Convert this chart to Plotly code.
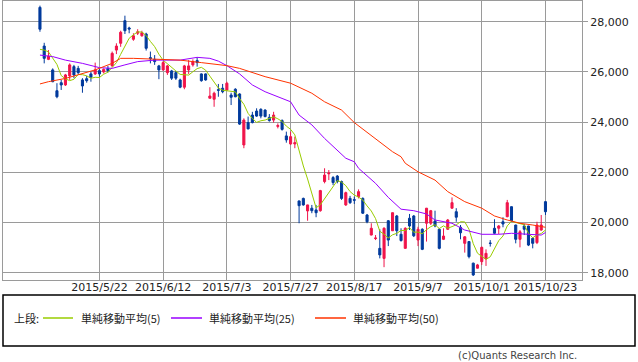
import plotly.graph_objects as go

# ---- data ----
opens = [28570, 27030, 26500, 26080, 25250, 25570, 25480, 25840, 26210, 26140,
         25680, 25730, 25920, 25920, 26050, 26000, 26140, 26240, 26870, 27140,
         28040, 27750, 27300, 27540, 27440, 27510, 26570, 26500, 26240, 26080,
         25970, 26040, 25970, 25680, 25390, 26080, 26280, 26450, 25920, 25920,
         24950, 24910, 25290, 25350, 25280, 25080, 25310, 25120, 23090, 23980,
         24280, 24440, 24510, 24480, 24190, 24080, 23830, 24060, 23450, 23130,
         23130, 20860, 20960, 20460, 20570, 20500, 20470, 21630, 21940, 21790,
         21850, 21630, 20700, 20960, 20910, 21030, 20960, 20300, 19500, 19360,
         18970, 18570, 20070, 19670, 20260, 19530, 18970, 20170, 20260, 19300,
         19730, 19970, 19970, 20060, 19730, 19330, 19730, 20570, 20430, 19810,
         19170, 19240, 18380, 18180, 18440, 18550, 19180, 19770, 19770, 20030,
         20230, 20630, 19900, 19330, 19860, 19860, 19370, 19200, 19700, 20830]
highs = [28640, 27160, 26870, 26140, 25550, 25680, 25920, 26340, 26280, 26240,
         25750, 25840, 26010, 26370, 26140, 26140, 26240, 26810, 27140, 27640,
         28240, 27800, 27540, 27700, 27640, 27560, 26810, 26670, 26280, 26430,
         26280, 26080, 26040, 25730, 26280, 26470, 26500, 26580, 25940, 25940,
         25390, 25210, 25520, 25520, 25610, 25170, 25350, 25150, 24150, 24220,
         24410, 24550, 24550, 24510, 24320, 24410, 23950, 24110, 23620, 23620,
         23420, 20870, 20990, 20710, 20700, 20700, 21300, 22160, 22090, 21850,
         21890, 21670, 21230, 21060, 21030, 21320, 21000, 20340, 19970, 19500,
         19730, 19810, 20100, 20400, 20300, 19770, 19810, 20340, 20300, 19830,
         19770, 20580, 20500, 20470, 19770, 19770, 20140, 21000, 20570, 19900,
         19460, 19250, 18400, 18350, 19040, 18930, 19300, 20130, 19900, 20210,
         20900, 20640, 19910, 19700, 19940, 19870, 19410, 20030, 20300, 20840]
lows = [27600, 26340, 26470, 25590, 24950, 25280, 25440, 25680, 25750, 25920,
        25170, 25570, 25610, 25880, 25810, 25940, 25970, 26210, 26710, 27000,
        27510, 27540, 27240, 27470, 27400, 26850, 26340, 26280, 25710, 26050,
        25880, 25680, 25680, 25350, 25310, 25920, 26210, 26210, 25610, 25650,
        24950, 24610, 25010, 25150, 25250, 24680, 24990, 23890, 22960, 23710,
        23950, 24210, 24150, 24190, 24020, 23980, 23750, 23660, 23180, 23090,
        22960, 19970, 20670, 20070, 20370, 20210, 20430, 21560, 21690, 21490,
        21560, 20900, 20660, 20740, 20740, 20960, 20340, 19970, 19490, 19300,
        18570, 18220, 19060, 19660, 19460, 19240, 18960, 19700, 19420, 19060,
        18900, 19240, 19900, 19810, 18930, 19300, 19700, 20550, 20030, 19330,
        18800, 18570, 17870, 18170, 18310, 18270, 19040, 19540, 19540, 19810,
        20210, 20030, 19170, 19010, 19500, 19060, 18970, 19140, 19670, 20300]
closes = [27700, 26540, 26630, 25610, 25010, 25480, 25880, 26280, 25880, 25970,
          25440, 25650, 25790, 26080, 25920, 26100, 26050, 26740, 27030, 27580,
          27640, 27710, 27440, 27600, 27560, 26940, 26530, 26410, 26080, 26370,
          26240, 25750, 25750, 25390, 26240, 26240, 26410, 26370, 25650, 25680,
          25040, 25150, 25270, 25210, 25550, 24990, 25010, 23920, 24080, 23730,
          23980, 24240, 24240, 24220, 24060, 24280, 23860, 23710, 23290, 23420,
          23180, 20670, 20700, 20700, 20470, 20390, 21270, 21890, 21970, 21590,
          21630, 20960, 21190, 20790, 20890, 21230, 20370, 20030, 19770, 19380,
          18710, 19770, 19300, 20390, 19670, 19280, 19770, 19860, 19470, 19730,
          18930, 20570, 20470, 19860, 18970, 19460, 20100, 20790, 20210, 19590,
          19430, 18640, 17910, 18310, 19010, 18770, 19170, 19570, 19860, 19940,
          20790, 20070, 19330, 19630, 19730, 19100, 19170, 19900, 19900, 20430]

# MA(5): first four values (need earlier history), rest from closes
ma5_head = [26900, 26870, 26800, 26540]

ma25_idx = [0, 3, 6, 10, 14, 17, 20, 23, 27, 33, 37, 40, 42, 44, 47, 50, 53, 57, 59,
            61, 64, 67, 69, 72, 74, 75, 79, 82, 85, 88, 91, 93, 97, 100, 104, 108,
            111, 115, 118, 119]
ma25_val = [26670, 26610, 26470, 26340, 26170, 26140, 26280, 26410, 26470, 26470,
            26580, 26540, 26430, 26250, 25920, 25480, 25210, 24950, 24810,
            24280, 23890, 23350, 23020, 22560, 22420, 22160, 21560, 21000, 20530,
            20470, 20340, 20100, 19970, 19700, 19530, 19530, 19570, 19530, 19500,
            19600]
ma50_idx = [0, 2, 6, 10, 13, 17, 19, 22, 28, 33, 38, 42, 44, 47, 53, 59, 64, 67,
            71, 74, 79, 82, 83, 85, 86, 89, 93, 96, 100, 104, 107, 110, 113, 116,
            119]
ma50_val = [25520, 25610, 25740, 25920, 26080, 26340, 26540, 26540, 26500, 26470,
            26370, 26280, 26250, 26140, 25810, 25550, 25150, 24810, 24480, 23980,
            23330, 22960, 22820, 22620, 22360, 22020, 21690, 21230, 20830, 20570,
            20260, 20100, 19970, 19900, 19810]

tick_pos = [14, 29, 44, 59, 74, 89, 104, 119]
tick_labels = ["2015/5/22", "2015/6/12", "2015/7/3", "2015/7/27",
               "2015/8/17", "2015/9/7", "2015/10/1", "2015/10/23"]
y_ticks = [18000, 20000, 22000, 24000, 26000, 28000]

legend_names = ["単純移動平均(5)", "単純移動平均(25)", "単純移動平均(50)"]

# ---- derived ----
x = list(range(len(closes)))
ma5 = list(ma5_head)
for i in range(4, len(closes)):
    ma5.append(sum(closes[i - 4:i + 1]) / 5)

GREEN = "#99cc00"
PURPLE = "#9900ff"
ORANGE = "#ff3300"
UP = "#f0144a"
DOWN = "#003a9c"
GRID = "#9a9a9a"

fig = go.Figure()
fig.add_trace(go.Candlestick(
    x=x, open=opens, high=highs, low=lows, close=closes,
    increasing=dict(line=dict(color=UP, width=1), fillcolor=UP),
    decreasing=dict(line=dict(color=DOWN, width=1), fillcolor=DOWN),
    whiskerwidth=0, showlegend=False, hoverinfo="skip"))
fig.add_trace(go.Scatter(x=x, y=ma5, mode="lines", hoverinfo="skip",
                         line=dict(color=GREEN, width=1), showlegend=False))
fig.add_trace(go.Scatter(x=ma25_idx, y=ma25_val, mode="lines", hoverinfo="skip",
                         line=dict(color=PURPLE, width=1), showlegend=False))
fig.add_trace(go.Scatter(x=ma50_idx, y=ma50_val, mode="lines", hoverinfo="skip",
                         line=dict(color=ORANGE, width=1), showlegend=False))

W, H = 638, 362
L, R, T, B = 3, 582, 1, 280


def px(xp):
    return (xp - L) / (R - L)


def py(yp):
    return (B - yp) / (B - T)


fig.update_layout(
    width=W, height=H,
    margin=dict(l=L, r=W - R, t=T, b=H - B, pad=0),
    paper_bgcolor="white", plot_bgcolor="white",
    font=dict(family="DejaVu Sans", size=11, color="#222222"),
    showlegend=False, hovermode=False,
    xaxis=dict(
        range=[-8.7, 127.6], tickmode="array", tickvals=tick_pos,
        ticktext=tick_labels, showgrid=True, gridcolor=GRID, gridwidth=1,
        zeroline=False, showline=True, linecolor=GRID, linewidth=1, mirror=True,
        ticks="", rangeslider=dict(visible=False), fixedrange=True,
        ticklabelstandoff=-3,
        tickfont=dict(family="DejaVu Sans", size=11, color="#222222"),
    ),
    yaxis=dict(
        range=[17709, 28825], side="right", tickmode="array", tickvals=y_ticks,
        tickformat=",d", showgrid=True, gridcolor=GRID, gridwidth=1,
        zeroline=False, showline=True, linecolor=GRID, linewidth=1, mirror=True,
        ticks="outside", ticklen=5, tickcolor=GRID, fixedrange=True,
        tickfont=dict(family="DejaVu Sans", size=11, color="#222222"),
    ),
)

shapes = [dict(type="rect", xref="paper", yref="paper",
               x0=px(3), x1=px(635), y0=py(346), y1=py(295),
               line=dict(color="black", width=1.5), fillcolor="rgba(0,0,0,0)")]
leg_y = 318
line_spans = [(43, 73, GREEN), (171, 202, PURPLE), (315, 346, ORANGE)]
text_x = [79, 207, 351]
for (a, b, c) in line_spans:
    shapes.append(dict(type="line", xref="paper", yref="paper",
                       x0=px(a), x1=px(b), y0=py(leg_y), y1=py(leg_y),
                       line=dict(color=c, width=1.5)))
fig.update_layout(shapes=shapes)

jp = "Noto Sans CJK JP"
ann = [dict(text="上段:", x=px(12), y=py(leg_y), xref="paper", yref="paper",
            xanchor="left", yanchor="middle", showarrow=False,
            font=dict(family=jp, size=11, color="#222222"))]
for tx, name in zip(text_x, legend_names):
    ann.append(dict(text=name, x=px(tx), y=py(leg_y), xref="paper", yref="paper",
                    xanchor="left", yanchor="middle", showarrow=False,
                    font=dict(family=jp, size=11, color="#222222")))
ann.append(dict(text="(c)Quants Research Inc.", x=px(579), y=py(355),
                xref="paper", yref="paper", xanchor="right", yanchor="middle",
                showarrow=False,
                font=dict(family="DejaVu Sans", size=10, color="#444444")))
fig.update_layout(annotations=ann)

fig.write_html("out.html", config={"displayModeBar": False, "staticPlot": True},
               post_script="document.body.style.margin='0';document.body.style.padding='0';")
